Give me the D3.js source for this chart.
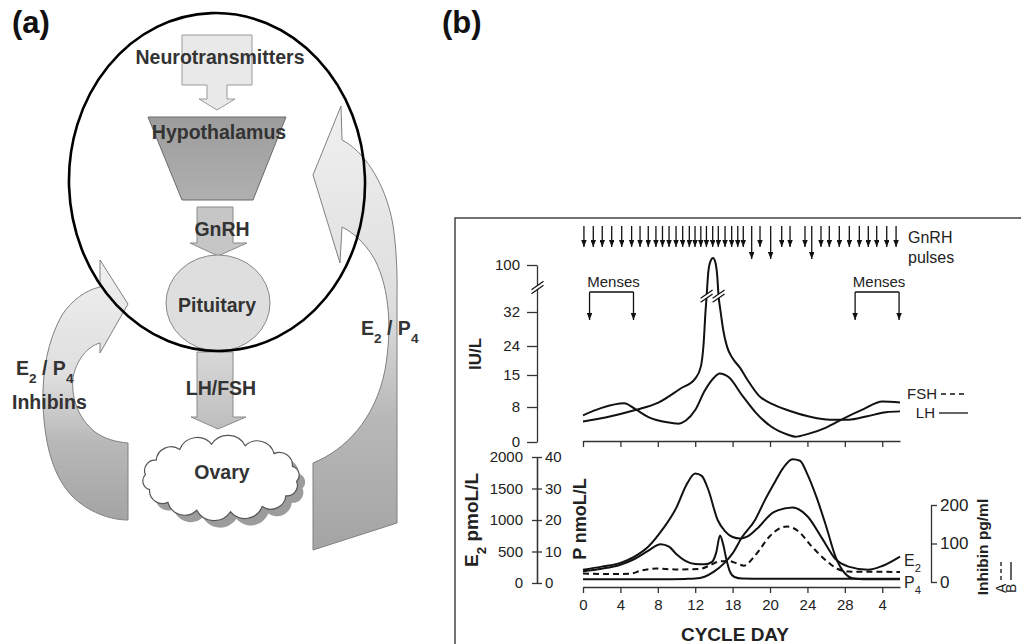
<!doctype html>
<html>
<head>
<meta charset="utf-8">
<style>
  body { margin: 0; background: #fff; }
  svg { display: block; }
  text { font-family: "Liberation Sans", Arial, Helvetica, sans-serif; }
</style>
<script src="https://d3js.org/d3.v7.min.js"></script>
</head>
<body>
<svg width="1021" height="644"></svg>
<script>
// ---- values ----
var dayTicks = [0, 4, 8, 12, 16, 20, 24, 28, 32];
var dayTickLabels = ["0", "4", "8", "12", "18", "20", "24", "28", "4"];
var iuTicks = [0, 8, 15, 24, 32, 100];
var e2Ticks = [0, 500, 1000, 1500, 2000];
var pTicks = [0, 10, 20, 30, 40];
var inhTicks = [0, 100, 200];

// top panel (IU/L)
var lhDays   = [0, 2.4, 5.6, 8, 10.4, 12, 12.6, 12.9, 13.1, 13.22, 13.4, 13.65, 13.9, 14.15, 14.35, 14.5, 14.7, 15, 15.4, 16, 16.8, 17.6, 18.8, 20.4, 22.4, 24.4, 26.4, 28.4, 30.4, 32.4, 33.9];
var lhValues = [4.7, 5.6, 7.3, 8.9, 12, 14.2, 17.6, 24.6, 32.6, 55, 90, 106, 110, 104, 85, 55, 34, 27.7, 23.8, 20.2, 17.2, 13.9, 10.5, 8.5, 6.9, 5.7, 5.1, 5.1, 5.9, 6.8, 7];
var fshDays   = [0, 2, 4.4, 5.6, 7, 9, 10.2, 11, 12, 13, 14, 14.6, 15.6, 17, 18.4, 20, 22, 22.7, 24, 26, 27.8, 30, 32, 33.9];
var fshValues = [6.1, 7.8, 8.8, 7.5, 5.7, 4.5, 4.2, 4.9, 7.3, 11.5, 14.4, 15.5, 14.5, 10.6, 6.9, 3.7, 1.6, 1.2, 1.8, 3.3, 5.3, 7.5, 9.2, 9];
var lhBreaks = [[13.22, 55], [14.5, 55]];

// GnRH pulses (cycle day), the long ones separately
var pulseDays = [0.1, 1.1, 2.06, 3.07, 4.14, 5.2, 6.1, 6.98, 7.8, 8.5, 9.2, 9.95, 10.66, 11.37, 11.98, 12.6, 13.2, 13.87, 14.47, 15.19, 15.9, 16.55, 17.14, 18.04, 18.93, 20.07, 21.25, 22.14, 23.74, 24.46, 25.45, 26.34, 27.41, 28.48, 29.55, 30.51, 31.41, 32.48, 33.48];
var longPulseDays = [18.04, 20.07, 24.46];
var mensesFrom = [0.7, 29.1];
var mensesTo = [5.4, 33.8];

// bottom panel
var e2Days   = [0, 2, 4, 5.5, 7, 8.5, 10, 11, 12, 12.7, 13.4, 14.4, 15.2, 16, 16.8, 17.6, 18.6, 20.4, 22.4, 24, 25.6, 27, 28.4, 30.5, 32, 33.9];
var e2Values = [210, 260, 320, 420, 580, 850, 1200, 1540, 1740, 1700, 1480, 1000, 820, 730, 705, 740, 860, 1125, 1200, 1060, 700, 380, 260, 210, 270, 420];
var p4Days   = [0, 4, 8, 11, 12, 13, 14, 15, 16, 17, 18.4, 19.4, 20.4, 21.4, 22.4, 23.2, 24, 25, 26, 27, 28, 29, 30, 33.9];
var p4Values = [1.2, 1.2, 1.2, 1.3, 1.4, 2, 3.6, 6, 9.4, 14.5, 20, 26, 31.4, 36.5, 39.3, 38.8, 34.5, 27, 18, 8.4, 3.1, 1.4, 1.2, 1.2];
var inhBDays   = [0, 2, 4, 5.5, 7, 8.3, 9.2, 10, 11, 12, 13, 13.8, 14.25, 14.65, 15, 15.3, 15.7, 16.2, 17, 20, 33.9];
var inhBValues = [27.8, 34.4, 45, 59.7, 81.8, 98.2, 91.7, 72, 54, 46.6, 45.8, 52.4, 76.9, 121, 96.6, 62.2, 27.8, 13.1, 9, 8.2, 8.2];
var inhADays   = [0, 3, 5, 6.2, 7.9, 9.8, 12.4, 13.5, 14.4, 15.5, 16.4, 17.2, 18.4, 20, 21, 21.8, 23, 24.4, 26, 27.2, 28.4, 33.9];
var inhAValues = [22, 20.5, 21.3, 29.5, 35.2, 32.7, 33.5, 42.5, 52.4, 54.8, 49, 42.5, 68.7, 119.5, 139, 144, 132.6, 94, 55.6, 34.4, 27, 26.2];

var svg = d3.select("svg");
var defs = svg.append("defs");
var ink = "#111", axisInk = "#333", txt = "#222";

defs.append("marker").attr("id", "ah").attr("viewBox", "0 0 10 10")
    .attr("refX", 10).attr("refY", 5).attr("markerUnits", "userSpaceOnUse")
    .attr("markerWidth", 7).attr("markerHeight", 5.5).attr("orient", "auto")
    .attr("preserveAspectRatio", "none")
  .append("path").attr("d", "M0,0L10,5L0,10z").attr("fill", ink);

function grad(id, stops) {
    var g = defs.append("linearGradient").attr("id", id)
        .attr("x1", 0).attr("y1", 0).attr("x2", 0).attr("y2", 1);
    stops.forEach(function(s) { g.append("stop").attr("offset", s[0]).attr("stop-color", s[1]); });
}
grad("fb", [[0, "#f0f0f0"], [0.45, "#dedede"], [0.7, "#b8b8b8"], [1, "#a4a4a4"]]);
grad("lhfsh", [[0, "#d8d8d8"], [1, "#bdbdbd"]]);
grad("hyp", [[0, "#9c9c9c"], [1, "#b0b0b0"]]);

// ================= panel (a) =================
var pa = svg.append("g");

// feedback arrows
pa.append("path")
    .attr("d", "M100,287 L100,260 L128,304 L100,353 L100,343 C88,346 76,360 73,378 C71,398 78,418 95,432 C105,439 116,442 128,443 L128,520 C110,520 88,512 72,496 C55,478 45,450 43,405 C42,370 48,340 62,315 C72,300 86,290 100,287 Z")
    .attr("fill", "url(#fb)").attr("stroke", "#808080").attr("stroke-width", 1);
pa.append("path")
    .attr("d", "M341,106 L342,140 C362,150 385,180 393,225 C398,260 397,290 397,300 L397,523 L313,550 L313,463 C345,450 375,420 385,370 C392,330 390,290 375,260 C365,242 352,232 342,227 L340,263 L313,175 Z")
    .attr("fill", "url(#fb)").attr("stroke", "#808080").attr("stroke-width", 1);

// neurotransmitters block arrow
pa.append("path")
    .attr("d", "M182,35 L252,35 L252,85 L227,85 L227,99 L235,99 L217,110 L199,99 L207,99 L207,85 L182,85 Z")
    .attr("fill", "#e9e9e9").attr("stroke", "#999");
// hypothalamus
pa.append("path").attr("d", "M148,117 L286,117 L253,200 L182,200 Z")
    .attr("fill", "url(#hyp)").attr("stroke", "#6a6a6a");
// GnRH arrow
pa.append("path")
    .attr("d", "M197,207 L233,207 L233,243 L247,243 L218,256 L190,243 L197,243 Z")
    .attr("fill", "#c6c6c6").attr("stroke", "#8a8a8a");
// pituitary
pa.append("ellipse").attr("cx", 218).attr("cy", 303).attr("rx", 52).attr("ry", 48)
    .attr("fill", "#dedede").attr("stroke", "#888");
// LH/FSH arrow
pa.append("path")
    .attr("d", "M197,352 L233,352 L233,417 L246,417 L218,429 L191,417 L197,417 Z")
    .attr("fill", "url(#lhfsh)").attr("stroke", "#8a8a8a");

// ovary cloud
var cN = 14, ccx = 221, ccy = 478, crx = 76, cry = 34;
var cpts = d3.range(cN).map(function(i) {
    var t = i / cN * 2 * Math.PI + 0.1;
    return [ccx + crx * Math.cos(t), ccy + cry * Math.sin(t)];
});
var cloudD = "M" + cpts[0][0] + "," + cpts[0][1];
cpts.forEach(function(p, i) {
    var q = cpts[(i + 1) % cN];
    var r = Math.hypot(q[0] - p[0], q[1] - p[1]) * 0.58;
    cloudD += "A" + r + "," + r + " 0 0 1 " + q[0] + "," + q[1];
});
pa.append("path").attr("d", cloudD + "Z").attr("transform", "translate(6,7)").attr("fill", "#9c9c9c");
pa.append("path").attr("d", cloudD + "Z").attr("fill", "#fff").attr("stroke", "#555").attr("stroke-width", 1.2);

// big ellipse
pa.append("ellipse").attr("cx", 217).attr("cy", 182).attr("rx", 148).attr("ry", 169)
    .attr("transform", "rotate(-2,217,182)")
    .attr("fill", "none").attr("stroke", "#000").attr("stroke-width", 2.6);

function boldLabel(g, xx, yy, parts, anchor) {
    var t = g.append("text").attr("x", xx).attr("y", yy).attr("text-anchor", anchor || "middle")
        .attr("font-weight", "bold").attr("font-size", 19.5).attr("fill", "#333");
    parts.forEach(function(p) {
        var s = t.append("tspan").text(p[0]);
        if (p[1]) s.attr("baseline-shift", "sub").attr("font-size", "70%");
    });
    return t;
}
boldLabel(pa, 220, 64, [["Neurotransmitters"]]);
boldLabel(pa, 219, 139, [["Hypothalamus"]]);
boldLabel(pa, 222, 236, [["GnRH"]]);
boldLabel(pa, 217, 312, [["Pituitary"]]);
boldLabel(pa, 221, 395, [["LH/FSH"]]);
boldLabel(pa, 222, 479, [["Ovary"]]);
boldLabel(pa, 16, 375, [["E"], ["2", 1], [" / P"], ["4", 1]], "start");
boldLabel(pa, 12, 409, [["Inhibins"]], "start");
boldLabel(pa, 361, 335, [["E"], ["2", 1], [" / P"], ["4", 1]], "start");

svg.append("text").attr("x", 12).attr("y", 33).attr("font-size", 31).attr("font-weight", "bold")
    .attr("fill", "#111").text("(a)");
svg.append("text").attr("x", 442).attr("y", 33).attr("font-size", 31).attr("font-weight", "bold")
    .attr("fill", "#111").text("(b)");

// ================= panel (b) =================
var pb = svg.append("g");
pb.append("rect").attr("x", 455).attr("y", 218).attr("width", 620).attr("height", 480)
    .attr("fill", "none").attr("stroke", "#444").attr("stroke-width", 1.5);

var x = d3.scaleLinear().domain([0, 33.9]).range([583, 900]);
var yIU = d3.scaleLinear().domain(iuTicks).range([442, 407, 375, 346, 312, 265]);
var yE2 = d3.scaleLinear().domain([0, 2000]).range([583, 457]);
var yP = d3.scaleLinear().domain([0, 40]).range([583, 457]);
var yInh = d3.scaleLinear().domain([0, 200]).range([582, 505]);
var plain = d3.format("d");

function styleAxis(g, fs) {
    g.select(".domain").attr("stroke", axisInk).attr("stroke-width", 1.3);
    g.selectAll(".tick line").attr("stroke", axisInk).attr("stroke-width", 1.3);
    g.selectAll(".tick text").attr("fill", txt).attr("font-size", fs || 15)
        .attr("font-family", "'Liberation Sans', Arial, sans-serif");
    g.attr("font-family", null);
}

// axes
var gIU = pb.append("g").attr("transform", "translate(537,0)")
    .call(d3.axisLeft(yIU).tickValues(iuTicks).tickFormat(plain).tickSize(10).tickSizeOuter(0).tickPadding(7));
styleAxis(gIU);
var gE2 = pb.append("g").attr("transform", "translate(537,0)")
    .call(d3.axisLeft(yE2).tickValues(e2Ticks).tickFormat(plain).tickSize(5).tickSizeOuter(0).tickPadding(9));
styleAxis(gE2);
var gP = pb.append("g").attr("transform", "translate(537,0)")
    .call(d3.axisRight(yP).tickValues(pTicks).tickFormat(plain).tickSize(5).tickSizeOuter(0).tickPadding(3));
styleAxis(gP);
var gInh = pb.append("g").attr("transform", "translate(931,0)")
    .call(d3.axisRight(yInh).tickValues(inhTicks).tickFormat(plain).tickSize(6).tickSizeOuter(0).tickPadding(3));
styleAxis(gInh, 17);
var gXt = pb.append("g").attr("transform", "translate(0,441)")
    .call(d3.axisBottom(x).tickValues(dayTicks).tickSize(6).tickSizeOuter(0).tickFormat(""));
styleAxis(gXt);
var gXb = pb.append("g").attr("transform", "translate(0,587)")
    .call(d3.axisBottom(x).tickValues(dayTicks).tickSize(6).tickSizeOuter(0).tickPadding(6)
        .tickFormat(function(d, i) { return dayTickLabels[i]; }));
styleAxis(gXb);

// break marks ("//")
function breakMark(cx, cy, half) {
    var dx = half, dy = half * 0.7;
    pb.append("path")
        .attr("d", "M" + (cx - dx) + "," + (cy + dy + 2) + "L" + (cx + dx) + "," + (cy - dy + 2) +
                   "L" + (cx + dx) + "," + (cy - dy - 2) + "L" + (cx - dx) + "," + (cy + dy - 2) + "Z")
        .attr("fill", "#fff");
    [-2, 2].forEach(function(o) {
        pb.append("line").attr("x1", cx - dx).attr("y1", cy + dy + o).attr("x2", cx + dx).attr("y2", cy - dy + o)
            .attr("stroke", ink).attr("stroke-width", 1.2);
    });
}
breakMark(537.5, 287.5, 6);

// curves
function pairs(days, vals) { return days.map(function(d, i) { return [d, vals[i]]; }); }
function lineFor(y) {
    return d3.line().x(function(d) { return x(d[0]); }).y(function(d) { return y(d[1]); })
        .curve(d3.curveMonotoneX);
}
pb.append("path").attr("d", lineFor(yIU)(pairs(lhDays, lhValues)))
    .attr("fill", "none").attr("stroke", ink).attr("stroke-width", 2);
pb.append("path").attr("d", lineFor(yIU)(pairs(fshDays, fshValues)))
    .attr("fill", "none").attr("stroke", ink).attr("stroke-width", 2);
lhBreaks.forEach(function(b) { breakMark(x(b[0]), yIU(b[1]), 6); });

pb.append("path").attr("d", lineFor(yInh)(pairs(inhADays, inhAValues)))
    .attr("fill", "none").attr("stroke", ink).attr("stroke-width", 2).attr("stroke-dasharray", "6,4");
pb.append("path").attr("d", lineFor(yInh)(pairs(inhBDays, inhBValues)))
    .attr("fill", "none").attr("stroke", ink).attr("stroke-width", 2);
pb.append("path").attr("d", lineFor(yP)(pairs(p4Days, p4Values)))
    .attr("fill", "none").attr("stroke", ink).attr("stroke-width", 2);
pb.append("path").attr("d", lineFor(yE2)(pairs(e2Days, e2Values)))
    .attr("fill", "none").attr("stroke", ink).attr("stroke-width", 2);

// GnRH pulses
pb.selectAll(".pulse").data(pulseDays).enter().append("line")
    .attr("class", "pulse")
    .attr("x1", function(d) { return x(d); }).attr("x2", function(d) { return x(d); })
    .attr("y1", 226)
    .attr("y2", function(d) { return longPulseDays.indexOf(d) >= 0 ? 259 : 247; })
    .attr("stroke", ink).attr("stroke-width", 1.3).attr("marker-end", "url(#ah)");

// menses brackets
mensesFrom.forEach(function(d0, i) {
    var x0 = x(d0), x1 = x(mensesTo[i]);
    pb.append("line").attr("x1", x0).attr("x2", x1).attr("y1", 292).attr("y2", 292)
        .attr("stroke", ink).attr("stroke-width", 1.3);
    [x0, x1].forEach(function(xx) {
        pb.append("line").attr("x1", xx).attr("x2", xx).attr("y1", 292).attr("y2", 320)
            .attr("stroke", ink).attr("stroke-width", 1.3).attr("marker-end", "url(#ah)");
    });
    pb.append("text").attr("x", (x0 + x1) / 2 + 2).attr("y", 287).attr("text-anchor", "middle")
        .attr("font-size", 15).attr("fill", txt).text("Menses");
});

function label(xx, yy, parts, opts) {
    opts = opts || {};
    var t = pb.append("text").attr("x", xx).attr("y", yy)
        .attr("text-anchor", opts.anchor || "start")
        .attr("font-size", opts.size || 15).attr("fill", txt);
    if (opts.bold) t.attr("font-weight", "bold");
    if (opts.rotate) t.attr("x", 0).attr("y", 0).attr("transform", "translate(" + xx + "," + yy + ") rotate(-90)");
    parts.forEach(function(p) {
        var s = t.append("tspan").text(p[0]);
        if (p[1]) s.attr("baseline-shift", "sub").attr("font-size", "70%");
    });
    return t;
}

label(908, 243, [["GnRH"]], { size: 16 });
label(908, 263, [["pulses"]], { size: 16 });

// top legend
label(937, 399, [["FSH"]], { anchor: "end" });
pb.append("line").attr("x1", 941).attr("x2", 968).attr("y1", 394).attr("y2", 394)
    .attr("stroke", ink).attr("stroke-width", 1.3).attr("stroke-dasharray", "5,4");
label(935, 418, [["LH"]], { anchor: "end" });
pb.append("line").attr("x1", 939).attr("x2", 968).attr("y1", 413).attr("y2", 413)
    .attr("stroke", ink).attr("stroke-width", 1.3);

// axis titles
label(481, 354, [["IU/L"]], { bold: true, size: 17, anchor: "middle", rotate: true });
label(478, 520, [["E"], ["2", 1], [" pmoL/L"]], { bold: true, size: 19, anchor: "middle", rotate: true });
label(586, 519, [["P nmoL/L"]], { bold: true, size: 18, anchor: "middle", rotate: true });
label(988, 547, [["Inhibin pg/ml"]], { bold: true, size: 15.5, anchor: "middle", rotate: true });
label(735, 641, [["CYCLE DAY"]], { bold: true, size: 19, anchor: "middle" });

// right end labels
label(904, 566, [["E"], ["2", 1]], { size: 16 });
label(904, 588, [["P"], ["4", 1]], { size: 16 });

// inhibin legend (rotated, at the right edge)
label(1006, 593, [["A"]], { rotate: true, size: 14 });
pb.append("line").attr("x1", 1001).attr("x2", 1001).attr("y1", 580).attr("y2", 562)
    .attr("stroke", ink).attr("stroke-width", 1.3).attr("stroke-dasharray", "4,3");
label(1016, 593, [["B"]], { rotate: true, size: 14 });
pb.append("line").attr("x1", 1011).attr("x2", 1011).attr("y1", 580).attr("y2", 562)
    .attr("stroke", ink).attr("stroke-width", 1.3);
</script>
</body>
</html>
